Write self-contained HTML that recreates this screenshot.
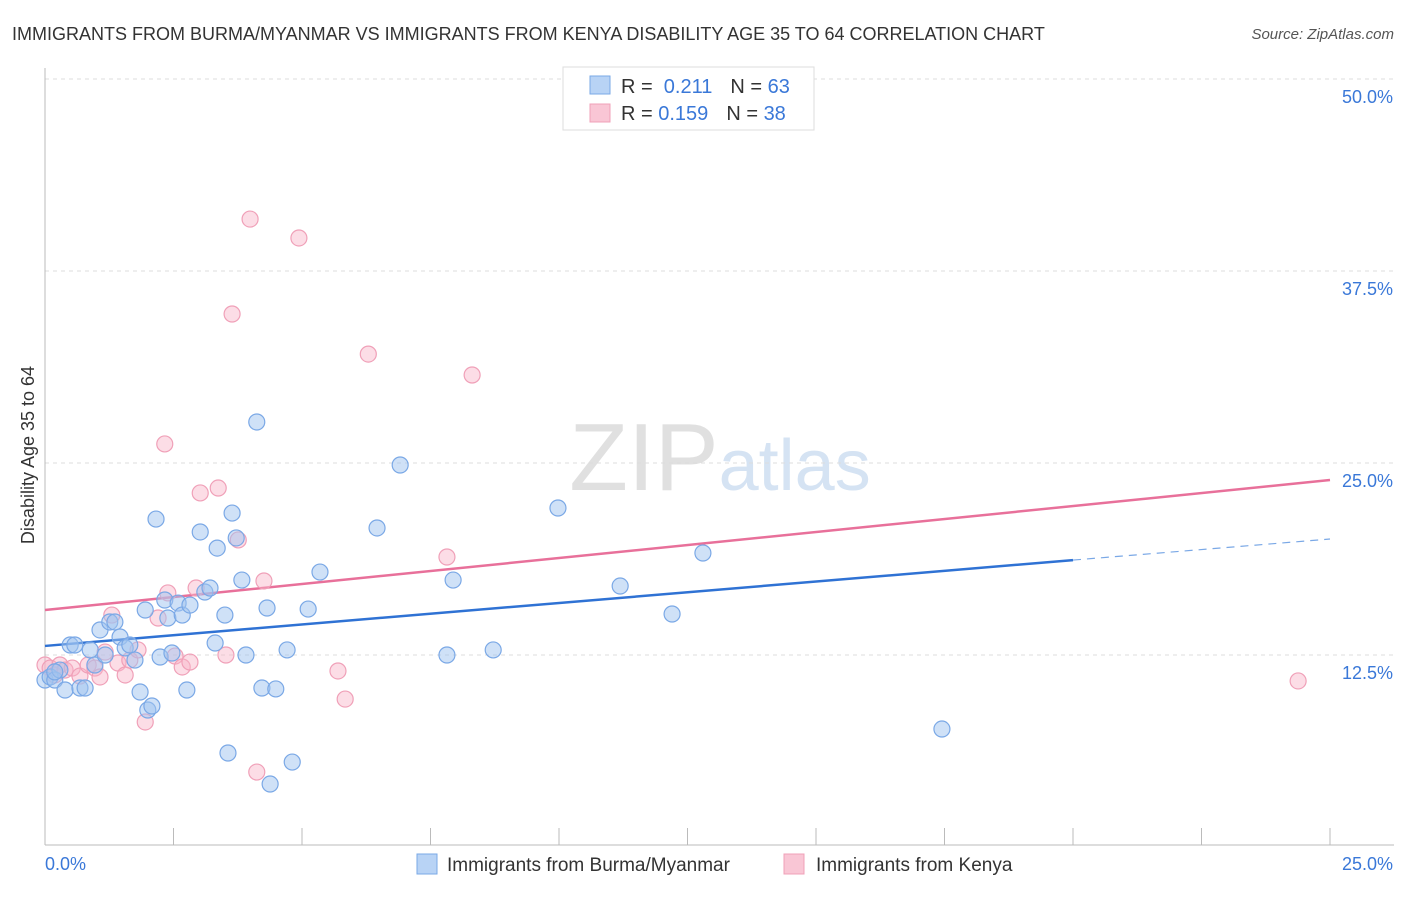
<!DOCTYPE html>
<html><head><meta charset="utf-8"><style>
body{margin:0;background:#fff;font-family:"Liberation Sans",sans-serif;}
svg text{font-family:"Liberation Sans",sans-serif;}
</style></head><body>
<svg id="chart" width="1406" height="892">
<text x="12" y="40" font-size="18" fill="#333">IMMIGRANTS FROM BURMA/MYANMAR VS IMMIGRANTS FROM KENYA DISABILITY AGE 35 TO 64 CORRELATION CHART</text>
<text x="1394" y="39" font-size="15" fill="#555" text-anchor="end" font-style="italic">Source: ZipAtlas.com</text>
<text x="720" y="490" font-size="96" fill="#ddd" text-anchor="middle" font-family="Liberation Serif"><tspan fill="#e0e0e0">ZIP</tspan><tspan fill="#d5e3f3" font-family="Liberation Sans" font-size="72">atlas</tspan></text>
<text transform="translate(34,455) rotate(-90)" font-size="18" fill="#333" text-anchor="middle">Disability Age 35 to 64</text>
<g id="grid"></g><g id="axes"></g><g id="lines"></g><g id="pts"></g>
<g>
<rect x="563" y="67" width="251" height="63" fill="#fff" stroke="#ddd"/>
<rect x="590" y="76" width="20" height="18" fill="#b8d3f5" stroke="#7aa8e6"/>
<text x="621" y="93" font-size="20" fill="#333">R = <tspan fill="#3a78d8">&#160;0.211</tspan><tspan dx="18">N = </tspan><tspan fill="#3a78d8">63</tspan></text>
<rect x="590" y="104" width="20" height="18" fill="#f9c6d5" stroke="#f0a0b8"/>
<text x="621" y="120" font-size="20" fill="#333">R = <tspan fill="#3a78d8">0.159</tspan><tspan dx="18">N = </tspan><tspan fill="#3a78d8">38</tspan></text>
</g>
<g>
<rect x="417" y="854" width="20" height="20" fill="#b8d3f5" stroke="#7aa8e6"/>
<text x="447" y="871" font-size="19" fill="#333">Immigrants from Burma/Myanmar</text>
<rect x="784" y="854" width="20" height="20" fill="#f9c6d5" stroke="#f0a0b8"/>
<text x="816" y="871" font-size="19" fill="#333">Immigrants from Kenya</text>
</g>
</svg>
<script>
const blueX=[0,0.10,0.19,0.29,0.39,0.49,0.58,0.68,0.78,0.88,0.97,1.07,1.17,1.26,1.36,1.46,1.56,1.65,1.75,1.85,1.95,2.00,2.08,2.16,2.24,2.33,2.39,2.47,2.59,2.67,2.76,2.82,3.02,3.11,3.21,3.31,3.35,3.50,3.56,3.64,3.72,3.83,3.91,4.12,4.22,4.32,4.38,4.49,4.71,4.81,5.12,5.35,6.46,6.91,7.82,7.94,8.72,9.98,11.19,12.20,12.80,17.45,0.19];
const blueY=[10.87,11.07,10.87,11.52,10.22,13.15,13.15,10.35,10.35,12.83,11.85,14.13,12.50,14.65,14.65,13.67,12.96,13.15,12.17,10.09,15.43,8.92,9.18,21.35,12.37,16.08,14.91,12.63,15.88,15.10,10.22,15.75,20.51,16.60,16.86,13.28,19.46,15.10,6.12,21.74,20.12,17.38,12.50,27.67,10.35,15.56,4.10,10.29,12.83,5.53,15.49,17.90,20.77,24.87,12.50,17.38,12.83,22.07,16.99,15.17,19.14,7.68,11.4];
const pinkX=[0,0.10,0.19,0.29,0.39,0.53,0.68,0.84,0.97,1.07,1.17,1.30,1.42,1.56,1.65,1.81,1.95,2.20,2.33,2.39,2.53,2.67,2.82,2.94,3.02,3.37,3.52,3.64,3.76,3.99,4.12,4.26,4.94,5.70,5.84,6.29,7.82,8.31,24.38];
const pinkY=[11.85,11.65,11.20,11.85,11.52,11.65,11.13,11.85,11.65,11.07,12.69,15.10,11.98,11.20,12.17,12.83,8.14,14.91,26.24,16.54,12.43,11.72,12.04,16.86,23.05,23.37,12.50,34.70,19.99,40.88,4.88,17.32,39.65,11.46,9.63,32.09,18.88,30.73,10.81];
const yTicks=[12.5,25,37.5,50];
const yTickLabels=["12.5%","25.0%","37.5%","50.0%"];
const blueTrend=[13.09,18.68,20.05]; // at x=0,20,25
const pinkTrend=[15.43,23.89]; // at x=0,25
const NS="http://www.w3.org/2000/svg";
const sx=v=>45+v/25*1285, sy=v=>847-v/12.5*192;
function mk(tag,attrs,parent){const e=document.createElementNS(NS,tag);for(const k in attrs)e.setAttribute(k,attrs[k]);document.getElementById(parent).appendChild(e);return e;}
yTicks.forEach((t,i)=>{
 const g=mk('line',{x1:45,x2:1394,y1:sy(t),y2:sy(t),stroke:'#ddd','stroke-dasharray':'4,4'},'grid');
 
 
 const tx=mk('text',{x:1393,y:sy(t)+24,'font-size':18,fill:'#3a78d8','text-anchor':'end'},'grid');
 tx.textContent=yTickLabels[i];
 
 
});
const ax=mk('line',{x1:45,x2:45,y1:68,y2:845,stroke:'#bbb'},'axes');


const bx=mk('line',{x1:45,x2:1394,y1:845,y2:845,stroke:'#bbb'},'axes');


for(let i=0;i<=10;i++){const t=mk('line',{x1:sx(i*2.5),x2:sx(i*2.5),y1:828,y2:845,stroke:'#bbb'},'axes');
 
 }
[['0.0%',45,'start'],['25.0%',1393,'end']].forEach(([s,x,a])=>{const t=mk('text',{x:x,y:870,'font-size':18,fill:'#3a78d8','text-anchor':a},'axes');t.textContent=s;
 
 });
function pts(X,Y,fill,stroke,name){X.forEach((x,i)=>{const c=mk('circle',{cx:sx(x),cy:sy(Y[i]),r:8,fill:fill,stroke:stroke,'stroke-width':1.2},'pts');
 
 });}
pts(pinkX,pinkY,'rgba(248,180,200,0.45)','#f0a0b8','kenya-point');
pts(blueX,blueY,'rgba(160,196,240,0.5)','#7aa8e6','burma-point');
let l=mk('line',{x1:sx(0),y1:sy(pinkTrend[0]),x2:sx(25),y2:sy(pinkTrend[1]),stroke:'#e8709a','stroke-width':2.5},'lines');


l=mk('line',{x1:sx(0),y1:sy(blueTrend[0]),x2:sx(20),y2:sy(blueTrend[1]),stroke:'#2f72d4','stroke-width':2.5},'lines');


l=mk('line',{x1:sx(20),y1:sy(blueTrend[1]),x2:sx(25),y2:sy(blueTrend[2]),stroke:'#7aa8e6','stroke-width':1.2,'stroke-dasharray':'8,6'},'lines');


</script>
</body></html>
